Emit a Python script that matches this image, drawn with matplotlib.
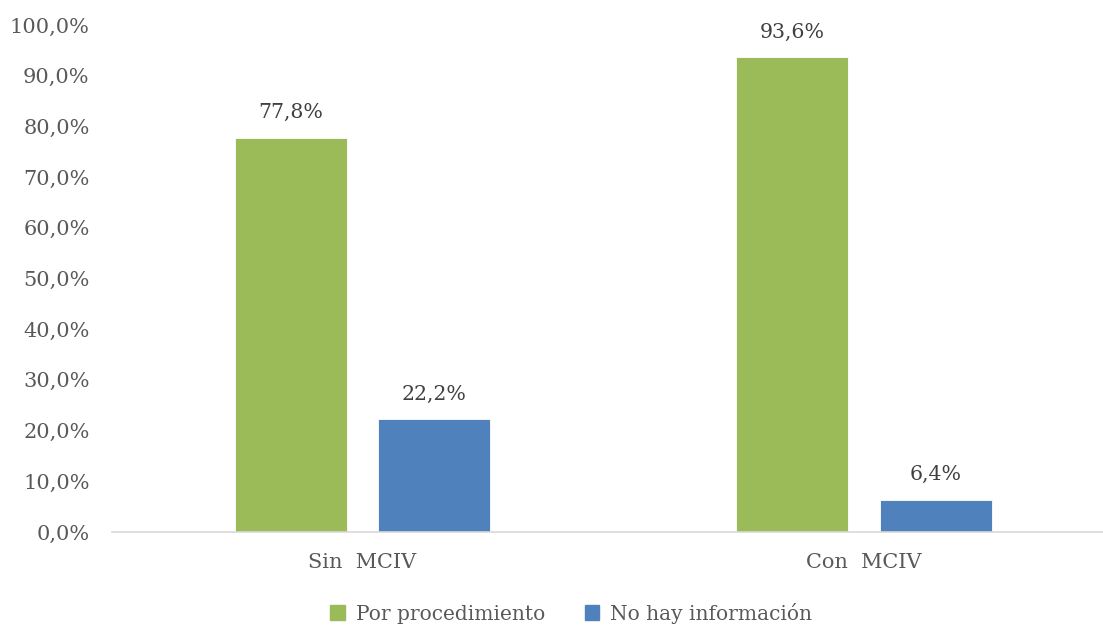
import numpy as np
import matplotlib.pyplot as plt
from matplotlib.patches import Patch

# Data
categories = ['Sin  MCIV', 'Con  MCIV']
por_procedimiento = [77.8, 93.6]
no_hay_info = [22.2, 6.4]
series_names = ['Por procedimiento', 'No hay información']

green = '#9BBB59'
blue = '#4F81BD'
text_col = '#595959'

plt.rcParams['font.family'] = ['DejaVu Serif']

fig = plt.figure(figsize=(11.03, 6.27), dpi=100)
ax = fig.add_axes([111.75 / 1103, 1 - 532 / 627, 1 - 111.75 / 1103, (532 - 25) / 627])

x = np.arange(len(categories))
w = 0.2233
off = 0.1426
b1 = ax.bar(x - off, por_procedimiento, w, color=green, edgecolor='white', linewidth=0.6)
b2 = ax.bar(x + off, no_hay_info, w, color=blue, edgecolor='white', linewidth=0.6)

# value labels above the bars
for bars, vals in [(b1, por_procedimiento), (b2, no_hay_info)]:
    for rect, v in zip(bars, vals):
        ax.text(rect.get_x() + rect.get_width() / 2, v + 4.9, f'{v:.1f}%'.replace('.', ','),
                ha='center', va='center', fontsize=14.8, color='#404040')

ax.set_xlim(-0.5, 1.5 - 11.75 / 501.5)
ax.set_ylim(0, 100)
ax.set_yticks(np.arange(0, 101, 10))
ax.set_yticklabels([f'{t:.1f}%'.replace('.', ',') for t in np.arange(0, 101, 10)],
                   fontsize=15, color=text_col)
ax.set_xticks(x)
ax.set_xticklabels(categories, fontsize=15, color=text_col)
ax.tick_params(axis='both', length=0)
ax.tick_params(axis='y', pad=16)
ax.tick_params(axis='x', pad=15)

for s in ['top', 'right', 'left']:
    ax.spines[s].set_visible(False)
ax.spines['bottom'].set_color('#D9D9D9')
ax.spines['bottom'].set_linewidth(1.2)

handles = [Patch(color=green), Patch(color=blue)]
fig.legend(handles, series_names, loc='center', bbox_to_anchor=(0.518, 1 - 613 / 627),
           ncol=2, frameon=False, fontsize=14.5, handlelength=0.7, handleheight=0.7,
           handletextpad=0.55, columnspacing=2.0, labelcolor=text_col)

fig.savefig('out.png', dpi=100)
